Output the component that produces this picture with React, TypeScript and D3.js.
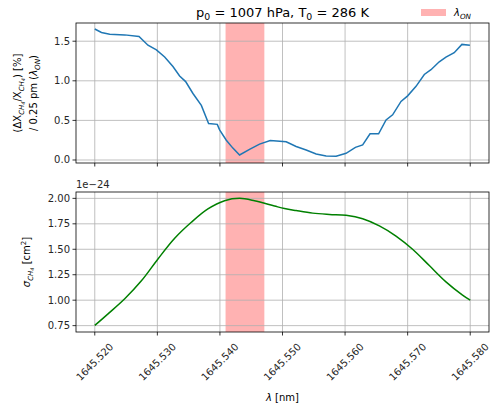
import * as d3 from "d3";

// top panel: sensitivity of the retrieval per 0.25 pm shift
const shiftWavelength = [
  1645.52, 1645.52107, 1645.52239, 1645.52479, 1645.52707, 1645.5285, 1645.52985, 1645.53117,
  1645.53249, 1645.53356, 1645.53452, 1645.53569, 1645.53703, 1645.53819, 1645.53958, 1645.53995,
  1645.54102, 1645.54207, 1645.54314, 1645.54473, 1645.54633, 1645.54804, 1645.55059, 1645.55218,
  1645.55378, 1645.55538, 1645.55697, 1645.55857, 1645.56016, 1645.56165, 1645.56281, 1645.56399,
  1645.56536, 1645.56655, 1645.5676, 1645.56894, 1645.57, 1645.57134, 1645.57266, 1645.57373,
  1645.57505, 1645.57612, 1645.57744, 1645.57867, 1645.57995,
];
const shiftError = [
  1.654, 1.61, 1.587, 1.58, 1.56, 1.45, 1.39, 1.3, 1.18, 1.06, 0.99, 0.84, 0.69, 0.46, 0.45, 0.38,
  0.25, 0.15, 0.063, 0.135, 0.2, 0.245, 0.23, 0.17, 0.126, 0.076, 0.05, 0.047, 0.084, 0.16, 0.19,
  0.33, 0.33, 0.505, 0.57, 0.74, 0.81, 0.93, 1.08, 1.14, 1.24, 1.3, 1.355, 1.46, 1.45,
];

// bottom panel: absorption cross section (units of 1e-24 cm^2)
const xsWavelength = [
  1645.52, 1645.52212, 1645.52479, 1645.52745, 1645.5301, 1645.53277, 1645.53543, 1645.53808,
  1645.54074, 1645.54314, 1645.54553, 1645.54872, 1645.55032, 1645.55218, 1645.55483, 1645.5575,
  1645.56016, 1645.56281, 1645.56548, 1645.56814, 1645.57079, 1645.57346, 1645.57612, 1645.57877,
  1645.58,
];
const crossSection = [
  0.752, 0.866, 1.014, 1.19, 1.405, 1.608, 1.765, 1.896, 1.977, 2.0, 1.977, 1.925, 1.9, 1.88,
  1.855, 1.842, 1.833, 1.8, 1.73, 1.63, 1.5, 1.34, 1.18, 1.05, 1.0,
];

const onBand = [1645.5409, 1645.5471];
const xTicks = [1645.52, 1645.53, 1645.54, 1645.55, 1645.56, 1645.57, 1645.58];
const topTicks = [0, 0.5, 1.0, 1.5];
const bottomTicks = [0.75, 1.0, 1.25, 1.5, 1.75, 2.0];

const W = 490;
const H = 409;
const FONT = "DejaVu Sans, sans-serif";
const LEFT = 76;
const RIGHT = 489;
const TOP1 = 23;
const BOT1 = 163;
const TOP2 = 192;
const BOT2 = 332;

const Sub = ({ t, italic = false }: { t: string; italic?: boolean }) => (
  <tspan baselineShift={-2.5} fontSize="0.72em" fontStyle={italic ? "italic" : "normal"}>
    {t}
  </tspan>
);

const CH4 = () => (
  <tspan baselineShift={-2.5} fontSize="0.7em" fontStyle="italic">
    CH
    <tspan baselineShift={-1.5} fontSize="0.7em">4</tspan>
  </tspan>
);

export default function App() {
  const x = d3.scaleLinear().domain([1645.517, 1645.583]).range([LEFT, RIGHT]);
  const y1 = d3.scaleLinear().domain([-0.038, 1.73]).range([BOT1, TOP1]);
  const y2 = d3.scaleLinear().domain([0.6875, 2.0625]).range([BOT2, TOP2]);

  const line1 = d3
    .line<number>()
    .x((_, i) => x(shiftWavelength[i]))
    .y((d) => y1(d));
  const line2 = d3
    .line<number>()
    .x((_, i) => x(xsWavelength[i]))
    .y((d) => y2(d))
    .curve(d3.curveCatmullRom);

  const panel = (y: d3.ScaleLinear<number, number>, ticks: number[], top: number, bot: number, fmt: (v: number) => string) => (
    <g>
      <rect x={x(onBand[0])} y={top} width={x(onBand[1]) - x(onBand[0])} height={bot - top} fill="red" opacity={0.3} />
      {xTicks.map((t) => (
        <line key={"gx" + t} x1={x(t)} x2={x(t)} y1={top} y2={bot} stroke="#b0b0b0" strokeWidth={0.8} />
      ))}
      {ticks.map((t) => (
        <g key={"gy" + t}>
          <line x1={LEFT} x2={RIGHT} y1={y(t)} y2={y(t)} stroke="#b0b0b0" strokeWidth={0.8} />
          <line x1={LEFT - 3.5} x2={LEFT} y1={y(t)} y2={y(t)} stroke="black" strokeWidth={0.8} />
          <text x={LEFT - 6} y={y(t)} dy="0.35em" textAnchor="end" fontSize={10} fill="#262626">
            {fmt(t)}
          </text>
        </g>
      ))}
      {xTicks.map((t) => (
        <line key={"tx" + t} x1={x(t)} x2={x(t)} y1={bot} y2={bot + 3.5} stroke="black" strokeWidth={0.8} />
      ))}
    </g>
  );

  const frame = (top: number, bot: number) => (
    <rect x={LEFT} y={top} width={RIGHT - LEFT} height={bot - top} fill="none" stroke="black" strokeWidth={0.8} />
  );

  return (
    <svg width={W} height={H} style={{ position: "absolute", left: 0, top: 0 }} fontFamily={FONT}>
      <rect width={W} height={H} fill="white" />

      {panel(y1, topTicks, TOP1, BOT1, d3.format(".1f"))}
      <path d={line1(shiftError) ?? ""} fill="none" stroke="#1f77b4" strokeWidth={1.5} />
      {frame(TOP1, BOT1)}

      {panel(y2, bottomTicks, TOP2, BOT2, d3.format(".2f"))}
      <path d={line2(crossSection) ?? ""} fill="none" stroke="green" strokeWidth={1.5} />
      {frame(TOP2, BOT2)}

      {/* x tick labels */}
      {xTicks.map((t) => (
        <text
          key={"lx" + t}
          transform={`translate(${x(t)},${362}) rotate(-45)`}
          textAnchor="middle"
          dy="0.35em"
          fontSize={10}
          fill="#262626"
        >
          {d3.format(".3f")(t)}
        </text>
      ))}

      <text x={(LEFT + RIGHT) / 2} y={401} textAnchor="middle" fontSize={10}>
        <tspan fontStyle="italic">λ</tspan> [nm]
      </text>

      {/* title */}
      <text x={(LEFT + RIGHT) / 2} y={16.5} textAnchor="middle" fontSize={13}>
        p<Sub t="0" /> = 1007 hPa, T<Sub t="0" /> = 286 K
      </text>

      {/* legend */}
      <rect x={421} y={9} width={25} height={7} fill="red" opacity={0.3} />
      <text x={454} y={16} fontSize={10}>
        <tspan fontStyle="italic">λ</tspan>
        <Sub t="ON" italic />
      </text>

      {/* y labels */}
      <text transform={`translate(21,${(TOP1 + BOT1) / 2}) rotate(-90)`} textAnchor="middle" fontSize={10}>
        (ΔX<CH4 />/X<CH4 />) [%]
      </text>
      <text transform={`translate(37,${(TOP1 + BOT1) / 2}) rotate(-90)`} textAnchor="middle" fontSize={10}>
        / 0.25 pm (<tspan fontStyle="italic">λ</tspan>
        <Sub t="ON" italic />)
      </text>
      <text transform={`translate(30,${(TOP2 + BOT2) / 2}) rotate(-90)`} textAnchor="middle" fontSize={10}>
        <tspan fontStyle="italic">σ</tspan>
        <CH4 /> [cm
        <tspan baselineShift={4} fontSize="0.7em">2</tspan>]
      </text>
      <text x={LEFT} y={188} fontSize={10} fill="#262626">
        1e−24
      </text>
    </svg>
  );
}
